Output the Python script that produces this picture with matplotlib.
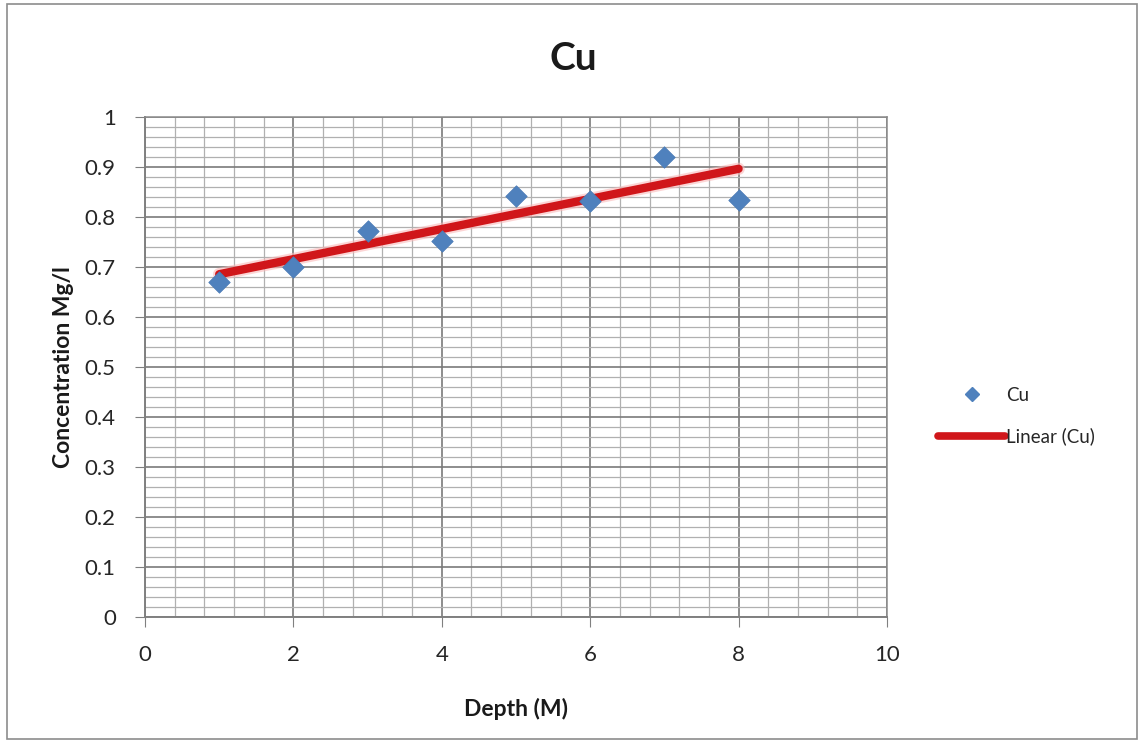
import numpy as np
import matplotlib
matplotlib.use("Agg")
import matplotlib.pyplot as plt
from matplotlib.ticker import MultipleLocator
from matplotlib.lines import Line2D
from matplotlib.patches import Rectangle

depth = [1, 2, 3, 4, 5, 6, 7, 8]
cu = [0.67, 0.70, 0.773, 0.753, 0.843, 0.833, 0.921, 0.835]
x_ticks = [0, 2, 4, 6, 8, 10]
y_ticks = [0, 0.1, 0.2, 0.3, 0.4, 0.5, 0.6, 0.7, 0.8, 0.9, 1]

plt.rcParams['font.family'] = ['Lato', 'DejaVu Sans']

W, H = 1146, 746
fig = plt.figure(figsize=(W / 100, H / 100), dpi=100)
fig.patch.set_facecolor('white')

# chart frame
fig.patches.append(Rectangle((7 / W, 1 - 739 / H), 1130 / W, 735 / H,
                             transform=fig.transFigure, fill=False,
                             edgecolor='#8c8c8c', linewidth=1.2))

ax = fig.add_axes([145 / W, 1 - 617 / H, 742 / W, 500 / H])
ax.set_xlim(0, 10)
ax.set_ylim(0, 1)

ax.xaxis.set_major_locator(MultipleLocator(2))
ax.xaxis.set_minor_locator(MultipleLocator(0.4))
ax.yaxis.set_major_locator(MultipleLocator(0.1))
ax.yaxis.set_minor_locator(MultipleLocator(0.02))
ax.set_xticks(x_ticks)
ax.set_yticks(y_ticks)
ax.set_yticklabels([f"{v:g}" for v in y_ticks])

ax.grid(which='major', color='#7a7a7a', linewidth=1.2)
ax.grid(which='minor', color='#b0b0b0', linewidth=0.9)
ax.set_axisbelow(True)

for side in ['left', 'bottom']:
    ax.spines[side].set_color('#808080')
    ax.spines[side].set_linewidth(1.4)
for side in ['top', 'right']:
    ax.spines[side].set_color('#8a8a8a')
    ax.spines[side].set_linewidth(1.1)

ax.tick_params(which='major', direction='out', length=7, color='#808080',
               labelsize=16, labelcolor='#262626')
ax.tick_params(axis='x', which='major', pad=13)
ax.tick_params(axis='y', which='major', pad=14)
ax.tick_params(which='minor', length=0)

# data
ax.scatter(depth, cu, marker='D', s=120, color='#4F81BD',
           edgecolors='#4a7ab5', linewidths=0.5, zorder=4, clip_on=False)

# least-squares trend line
slope, intercept = np.polyfit(depth, cu, 1)
xs = np.array([depth[0], depth[-1]])
ax.plot(xs, slope * xs + intercept, color='#fbb9b9', linewidth=9,
        solid_capstyle='round', zorder=3, alpha=0.6)
ax.plot(xs, slope * xs + intercept, color='#d0161a', linewidth=6,
        solid_capstyle='round', zorder=3)

ax.set_title('Cu', fontsize=28, fontweight='bold', color='#1a1a1a',
             pad=34, x=(573 - 145) / 742)
ax.set_xlabel('Depth (M)', fontsize=16.5, fontweight='bold', color='#1a1a1a',
              labelpad=24)
ax.set_ylabel('Concentration Mg/l', fontsize=16.5, fontweight='bold',
              color='#1a1a1a', labelpad=8)

handles = [
    Line2D([], [], marker='D', linestyle='none', color='#4F81BD',
           markersize=7.5),
    Line2D([], [], color='#d0161a', linewidth=5.5, solid_capstyle='round'),
]
leg = fig.legend(handles, ['Cu', 'Linear (Cu)'], loc='center left',
                 bbox_to_anchor=(921 / W, 1 - 416 / H), frameon=False,
                 fontsize=13.5, handlelength=3.6, handletextpad=0.05,
                 labelspacing=1.25)
for t in leg.get_texts():
    t.set_color('#262626')

fig.savefig('out.png', dpi=100, facecolor='white')
